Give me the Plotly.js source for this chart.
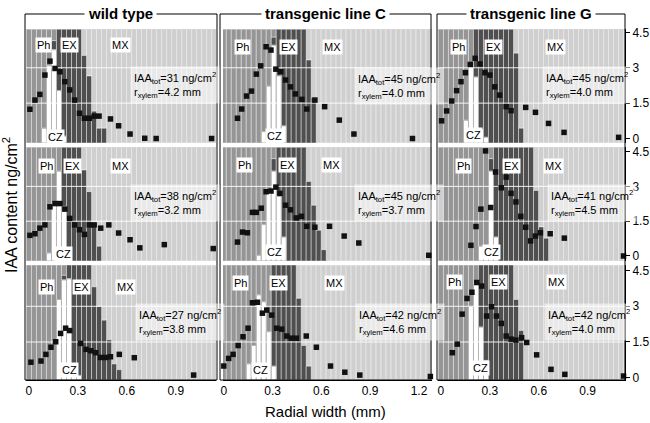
<!DOCTYPE html>
<html><head><meta charset="utf-8">
<script src="https://cdn.plot.ly/plotly-3.0.1.min.js"></script>
<style>html,body{margin:0;padding:0;background:#fff}#chart{width:650px;height:423px}</style>
</head><body><div id="chart"></div>
<script>
// ---------------- DATA ----------------
const columnTitles = ['wild type', 'transgenic line C', 'transgenic line G'];
const xTicks = [0, 0.3, 0.6, 0.9, 1.2];
const yTicks = [0, 1.5, 3, 4.5];
const gridVals = [1.5, 3];
const sectionWidth = 0.0307; // mm per tangential section
const iaaTot = [31, 45, 45, 38, 45, 41, 27, 42, 42];       // ng/cm2
const rXylem = [4.2, 4.0, 4.0, 3.2, 3.7, 4.5, 3.8, 4.6, 4.0]; // mm

// IAA content per section (x: radial width mm, y: ng/cm2)
const wt1X = [0.006,0.037,0.067,0.098,0.129,0.16,0.19,0.22,0.25,0.28,0.31,0.34,0.37,0.40,0.43,0.50,0.55,0.62,0.71,0.78,1.12];
const wt1Y = [1.24,1.63,1.87,2.69,3.28,2.97,2.83,2.41,2.06,1.63,1.07,0.86,0.86,0.95,0.95,0.83,0.54,0.19,0.01,0,0];
const c1X = [0.084,0.11,0.14,0.17,0.20,0.227,0.26,0.29,0.32,0.35,0.38,0.41,0.44,0.48,0.51,0.56,0.62,0.71,0.80,1.16];
const c1Y = [0.86,1.25,1.80,2.01,2.73,3.08,3.89,3.75,2.94,2.83,2.48,2.19,1.89,1.66,1.25,1.63,1.35,0.78,0.19,0];
const g1X = [0.004,0.035,0.066,0.096,0.123,0.15,0.18,0.21,0.24,0.27,0.30,0.33,0.36,0.40,0.43,0.52,0.58,0.66,0.755,1.09];
const g1Y = [0.75,1.17,1.59,2.03,2.41,2.79,3.14,3.40,3.16,2.79,2.69,2.19,1.84,1.35,1.18,1.32,1.11,0.64,0.26,0.05];
const wt2X = [0.006,0.037,0.067,0.098,0.129,0.16,0.19,0.22,0.25,0.28,0.31,0.34,0.37,0.40,0.44,0.49,0.55,0.62,0.68,0.83,1.13];
const wt2Y = [0.89,0.96,1.20,1.34,2.12,2.26,2.26,2.02,1.62,1.34,1.13,0.93,1.34,1.34,1.20,1.34,0.99,0.70,0.35,0.49,0.32];
const c2X = [0.084,0.115,0.145,0.176,0.20,0.23,0.26,0.29,0.32,0.345,0.38,0.41,0.446,0.477,0.51,0.56,0.65,0.74,0.83,1.26];
const c2Y = [0.60,1.03,1.00,1.88,1.88,2.06,2.77,2.80,2.97,2.70,2.19,1.99,1.64,1.71,1.28,1.24,1.28,0.86,0.56,0.03];
const g2X = [0.184,0.215,0.245,0.274,0.305,0.335,0.37,0.40,0.43,0.46,0.49,0.52,0.55,0.58,0.61,0.67,0.757,1.12];
const g2Y = [0.46,1.27,2.02,4.53,2.09,3.62,2.94,3.40,2.70,2.33,1.71,1.24,0.65,0.86,1.00,0.96,0.77,0];
const wt3X = [0.012,0.074,0.104,0.135,0.164,0.194,0.225,0.25,0.317,0.35,0.38,0.41,0.44,0.47,0.50,0.554,0.646,1.01];
const wt3Y = [0.65,0.70,0.98,1.28,1.51,1.86,2.08,1.98,1.44,1.19,1.13,1.05,0.85,0.85,0.88,0.98,0.84,0.11];
const c3X = [0,0.03,0.057,0.088,0.118,0.149,0.176,0.207,0.237,0.264,0.294,0.325,0.356,0.387,0.415,0.446,0.507,0.569,0.656,0.744,0.836,1.27];
const c3Y = [0.49,0.81,0.98,1.35,1.72,2.08,3.15,3.17,2.71,2.84,2.63,2.08,2.04,1.75,1.66,1.66,1.75,1.28,0.49,0.23,0.11,0.05];
const g3X = [0.07,0.10,0.13,0.16,0.19,0.22,0.25,0.28,0.31,0.34,0.37,0.40,0.43,0.46,0.495,0.526,0.587,0.675,0.76,1.12];
const g3Y = [1.05,1.41,2.67,3.33,3.59,4.00,3.85,2.59,2.98,2.59,2.28,1.75,1.62,1.58,1.68,1.48,0.96,0.35,0.14,0.07];

// Tissue composition of sections (fraction of column from the bottom):
// CZ = cambial zone (white) top, EX = expanding xylem (dark) top; rest is Ph (before phEnd) or MX
const wt1Start = 3, wt1PhEnd = 6;
const wt1CZ = [.13,.68,.82,.46,.06,0,0,0,0,0,0,0,0];
const wt1EX = [0,0,.90,1,1,1,1,1,.77,.59,.28,.13,.13];
const c1Start = 8, c1PhEnd = 11;
const c1CZ = [.10,.50,.86,.59,.15,0,0,0,0,0,0];
const c1EX = [0,0,.93,1,1,1,1,1,1,.73,.40];
const g1Start = 5, g1PhEnd = 7;
const g1CZ = [.20,.67,.58,.12,.05,0,0,0,0,0,0,0];
const g1EX = [0,0,1,1,1,1,1,1,1,1,.79,.13];
const wt2Start = 4, wt2PhEnd = 7;
const wt2CZ = [.07,.50,.79,.48,.10,0,0,0,0,0,0];
const wt2EX = [0,0,0,1,1,1,1,.80,.61,.33,.13];
const c2Start = 7, c2PhEnd = 11;
const c2CZ = [.05,.32,.62,.79,.57,.21,0,0,0,0,0,0,0,0];
const c2EX = [0,0,0,.90,1,1,1,1,1,1,.70,.49,.27,.10];
const g2Start = 8, g2PhEnd = 11;
const g2CZ = [.13,.13,.79,.21,0,0,0,0,0,0,0,0,0,0];
const g2EX = [0,0,.90,1,1,1,1,1,1,1,1,.62,.30,.20];
const wt3Start = 6, wt3PhEnd = 8;
const wt3CZ = [.70,.87,.88,.09,.04,0,0,0,0,0,0,0,0];
const wt3EX = [0,.91,1,1,1,1,1,.81,.64,.52,.35,.14,.09];
const c3Start = 5, c3PhEnd = 10;
const c3CZ = [.14,.30,.74,.68,.42,.12,0,0,0,0,0,0,0];
const c3EX = [0,0,0,0,0,1,1,1,1,1,.71,.30,.12];
const g3Start = 6, g3PhEnd = 8;
const g3CZ = [.64,.83,.46,.17,0,0,0,0,0,0,0];
const g3EX = [0,0,1,1,1,1,1,1,1,.70,.43];

// ---------------- LAYOUT CONFIG ----------------
const W = 650, H = 423;
const colPx = [[26,216],[223,432],[438,625]];
const rowPx = [[29.3,143],[147.3,261],[265,380]];
const boxPx = [[25,217],[220,431],[437,625]];
const xRanges = [[-0.018,1.147],[-0.005,1.28],[-0.018,1.129]];
const yRanges = [[-0.19,4.63],[-0.216,4.685],[-0.097,4.735]];
const labelPos = [
  {ph:[0.09,3.95],ex:[0.25,3.95],mx:[0.56,3.95],cz:[0.16,0.08],txt:[0.62,2.25]},
  {ph:[0.115,3.88],ex:[0.40,3.88],mx:[0.67,3.88],cz:[0.31,0.12],txt:[0.80,2.22]},
  {ph:[0.106,3.88],ex:[0.325,3.88],mx:[0.70,3.88],cz:[0.20,0.15],txt:[0.62,2.27]},
  {ph:[0.108,3.86],ex:[0.27,3.86],mx:[0.56,3.86],cz:[0.21,0.10],txt:[0.62,2.30]},
  {ph:[0.125,3.94],ex:[0.39,3.94],mx:[0.66,3.94],cz:[0.31,0.18],txt:[0.80,2.30]},
  {ph:[0.137,3.86],ex:[0.43,3.86],mx:[0.69,3.86],cz:[0.31,0.18],txt:[0.65,2.30]},
  {ph:[0.108,3.82],ex:[0.32,3.82],mx:[0.59,3.82],cz:[0.25,0.32],txt:[0.65,2.36]},
  {ph:[0.104,3.96],ex:[0.335,3.96],mx:[0.68,3.96],cz:[0.227,0.32],txt:[0.805,2.36]},
  {ph:[0.086,4.03],ex:[0.35,4.03],mx:[0.71,4.03],cz:[0.24,0.39],txt:[0.63,2.36]}
];
const COL = {white:'#ffffff', ex:'#4f4f4f', ph:'#959595', mx:'#cfcfcf'};
const FONT = 'Liberation Sans, Arial, Helvetica, sans-serif';

const panels = [
  {x:wt1X,y:wt1Y,cz:wt1CZ,ex:wt1EX,s0:wt1Start,phEnd:wt1PhEnd},
  {x:c1X,y:c1Y,cz:c1CZ,ex:c1EX,s0:c1Start,phEnd:c1PhEnd},
  {x:g1X,y:g1Y,cz:g1CZ,ex:g1EX,s0:g1Start,phEnd:g1PhEnd},
  {x:wt2X,y:wt2Y,cz:wt2CZ,ex:wt2EX,s0:wt2Start,phEnd:wt2PhEnd},
  {x:c2X,y:c2Y,cz:c2CZ,ex:c2EX,s0:c2Start,phEnd:c2PhEnd},
  {x:g2X,y:g2Y,cz:g2CZ,ex:g2EX,s0:g2Start,phEnd:g2PhEnd},
  {x:wt3X,y:wt3Y,cz:wt3CZ,ex:wt3EX,s0:wt3Start,phEnd:wt3PhEnd},
  {x:c3X,y:c3Y,cz:c3CZ,ex:c3EX,s0:c3Start,phEnd:c3PhEnd},
  {x:g3X,y:g3Y,cz:g3CZ,ex:g3EX,s0:g3Start,phEnd:g3PhEnd}
];

const traces = [];
const layout = {
  width: W, height: H, margin:{l:0,r:0,t:0,b:0},
  paper_bgcolor:'#fff', plot_bgcolor: COL.ph,
  barmode:'overlay', bargap:0, showlegend:false,
  font:{family:FONT, color:'#000'},
  annotations:[], shapes:[]
};

panels.forEach((p, idx) => {
  const r = Math.floor(idx/3), c = idx % 3, n = idx + 1;
  const xa = 'x' + n, ya = 'y' + n;
  const xr = xRanges[c], yr = yRanges[r];
  const span = yr[1] - yr[0];
  const seg = {white:{x:[],b:[],h:[]}, ex:{x:[],b:[],h:[]}, ph:{x:[],b:[],h:[]}, mx:{x:[],b:[],h:[]}};
  const add = (k, x, f0, f1) => { if (f1 - f0 > 1e-6) { seg[k].x.push(x); seg[k].b.push(yr[0] + f0*span); seg[k].h.push((f1-f0)*span); } };
  const nSec = Math.ceil(xr[1]/sectionWidth) + 1;
  for (let i = 0; i <= nSec; i++) {
    const x = i * sectionWidth, k = i - p.s0;
    if (k < 0) { add('ph', x, 0, 1); continue; }
    if (k >= p.cz.length) { add('mx', x, 0, 1); continue; }
    const cz = p.cz[k], ex = Math.max(p.ex[k], cz);
    add('white', x, 0, cz);
    add('ex', x, cz, ex);
    add(i < p.phEnd ? 'ph' : 'mx', x, ex, 1);
  }
  ['ph','mx','ex','white'].forEach(k => {
    traces.push({type:'bar', x:seg[k].x, y:seg[k].h, base:seg[k].b, width:sectionWidth,
      xaxis:xa, yaxis:ya, hoverinfo:'skip',
      marker:{color:COL[k], line:{color: k==='white' ? '#b5b5b5' : 'rgba(255,255,255,0.45)', width:1}}});
  });
  const gx = [], gy = [];
  gridVals.forEach(v => { gx.push(xr[0], xr[1], null); gy.push(v, v, null); });
  traces.push({type:'scatter', mode:'lines', x:gx, y:gy, xaxis:xa, yaxis:ya, hoverinfo:'skip',
    line:{color:'rgba(255,255,255,0.9)', width:1}});
  traces.push({type:'scatter', mode:'markers', x:p.x, y:p.y, xaxis:xa, yaxis:ya, cliponaxis:false,
    marker:{symbol:'square', size:5.5, color:'#111'}});

  const xd = [colPx[c][0]/W, colPx[c][1]/W];
  const yd = [1 - rowPx[r][1]/H, 1 - rowPx[r][0]/H];
  layout['xaxis' + (n===1?'':n)] = {domain:xd, range:xr, anchor:ya, showgrid:false, zeroline:false,
    showline: r===2, linecolor:'#000', linewidth:1, ticks:'', showticklabels: r===2,
    tickvals:xTicks, tickfont:{size:12, family:FONT}, fixedrange:true};
  layout['yaxis' + (n===1?'':n)] = {domain:yd, range:yr, anchor:xa, side:'right', showgrid:false, zeroline:false,
    showline: c===2, linecolor:'#000', linewidth:1, ticks: c===2 ? 'outside' : '', ticklen:4, tickcolor:'#000',
    showticklabels: c===2, tickvals:yTicks, tickfont:{size:12, family:FONT}, fixedrange:true};

  const lp = labelPos[idx];
  const lab = (txt, pos) => layout.annotations.push({xref:xa, yref:ya, x:pos[0], y:pos[1], text:txt, showarrow:false,
    bgcolor:'#fff', borderpad:1, font:{size:11, family:FONT}, xanchor:'center', yanchor:'middle'});
  lab('Ph', lp.ph); lab('EX', lp.ex); lab('MX', lp.mx); lab('CZ', lp.cz);
  layout.annotations.push({xref:xa, yref:ya, x:lp.txt[0], y:lp.txt[1], xanchor:'left', yanchor:'middle', showarrow:false,
    align:'left', bgcolor:'rgba(255,255,255,0.55)', borderpad:3, font:{size:11, family:FONT},
    text:'IAA<sub>tot</sub>=' + iaaTot[idx] + ' ng/cm<sup>2</sup><br>r<sub>xylem</sub>=' + rXylem[idx].toFixed(1) + ' mm'});
});

boxPx.forEach((b, c) => {
  layout.shapes.push({type:'rect', xref:'paper', yref:'paper', x0:b[0]/W, x1:b[1]/W, y0:1-380/H, y1:1-14/H,
    line:{color:'#000', width:1}, layer:'above'});
  layout.annotations.push({xref:'paper', yref:'paper', x:(b[0]+b[1])/2/W, y:1-13.5/H, xanchor:'center', yanchor:'middle',
    showarrow:false, bgcolor:'#fff', borderpad:3, text:'<b>' + columnTitles[c] + '</b>', font:{size:15, family:FONT}});
});
layout.annotations.push({xref:'paper', yref:'paper', x:325/W, y:1-411/H, xanchor:'center', yanchor:'middle', showarrow:false,
  text:'Radial width (mm)', font:{size:15, family:FONT}});
layout.annotations.push({xref:'paper', yref:'paper', x:10/W, y:1-205/H, xanchor:'center', yanchor:'middle', showarrow:false,
  textangle:-90, text:'IAA content ng/cm<sup>2</sup>', font:{size:16, family:FONT}});

Plotly.newPlot('chart', traces, layout, {displayModeBar:false, staticPlot:true});
</script></body></html>
